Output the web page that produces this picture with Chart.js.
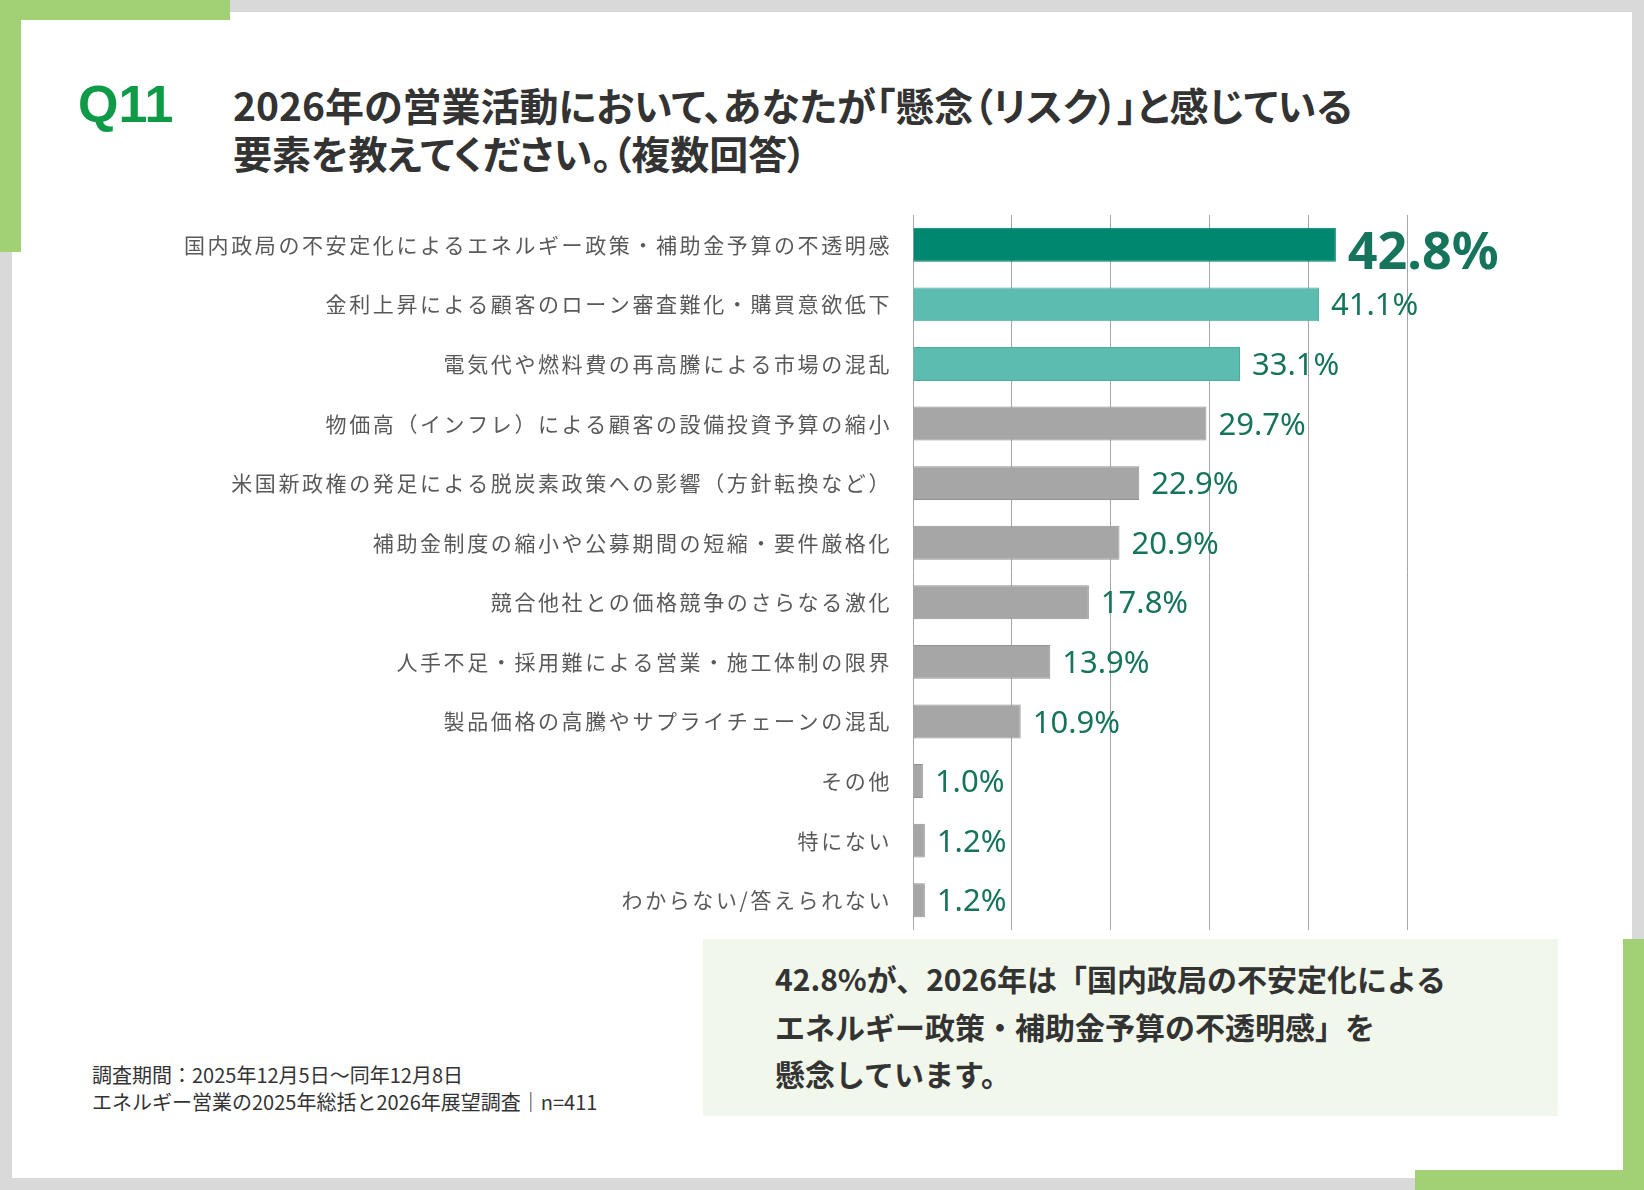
<!DOCTYPE html>
<html lang="ja">
<head>
<meta charset="utf-8">
<title>Q11 懸念要素</title>
<script src="https://cdn.jsdelivr.net/npm/chart.js@4.4.1/dist/chart.umd.min.js"></script>
<style>
  html, body { margin: 0; padding: 0; }
  body { width: 1644px; height: 1190px; background: #d9d9d9; position: relative; overflow: hidden; font-family: "Noto Sans CJK JP", sans-serif; }
  .panel { position: absolute; left: 12px; top: 12px; width: 1620px; height: 1166px; background: #fff; }
  .green { position: absolute; background: #a2d074; }
  .q { position: absolute; left: 78px; top: 78px; font: 700 52px/52px "Liberation Sans", Arial, sans-serif; color: #0e9a47; }
  .title { position: absolute; left: 233px; top: 80px; font-weight: 700; font-size: 39px; line-height: 48px; color: #333; white-space: nowrap; font-feature-settings: "palt"; }
  .chart-box { position: absolute; left: 150px; top: 200px; width: 1400px; height: 740px; }
  .callout { position: absolute; left: 703px; top: 939px; width: 855px; height: 177px; background: #f1f7ea; }
  .callout-text { position: absolute; left: 775px; top: 955px; font-weight: 700; font-size: 30px; line-height: 47.5px; color: #333; white-space: nowrap; }
  .note { position: absolute; left: 92px; top: 1061px; font-size: 20px; line-height: 27px; color: #333; white-space: nowrap; }
</style>
</head>
<body>
<div class="panel"></div>
<div class="green" style="left:0;top:0;width:230px;height:20px"></div>
<div class="green" style="left:0;top:0;width:21px;height:252px"></div>
<div class="green" style="left:1623px;top:939px;width:21px;height:251px"></div>
<div class="green" style="left:1415px;top:1170px;width:229px;height:20px"></div>

<div class="q">Q11</div>
<div class="title">2026年の営業活動において、あなたが「懸念（リスク）」と感じている<br>要素を教えてください。（複数回答）</div>

<div class="chart-box"><canvas id="chart" width="1400" height="740"></canvas></div>

<div class="callout"></div>
<div class="callout-text">42.8%が、2026年は「国内政局の不安定化による<br>エネルギー政策・補助金予算の不透明感」を<br>懸念しています。</div>

<div class="note">調査期間：2025年12月5日～同年12月8日<br>エネルギー営業の2025年総括と2026年展望調査｜n=411</div>

<script>
// data (%)
const categories = [
  "国内政局の不安定化によるエネルギー政策・補助金予算の不透明感",
  "金利上昇による顧客のローン審査難化・購買意欲低下",
  "電気代や燃料費の再高騰による市場の混乱",
  "物価高（インフレ）による顧客の設備投資予算の縮小",
  "米国新政権の発足による脱炭素政策への影響（方針転換など）",
  "補助金制度の縮小や公募期間の短縮・要件厳格化",
  "競合他社との価格競争のさらなる激化",
  "人手不足・採用難による営業・施工体制の限界",
  "製品価格の高騰やサプライチェーンの混乱",
  "その他",
  "特にない",
  "わからない/答えられない"
];
const values = [42.8, 41.1, 33.1, 29.7, 22.9, 20.9, 17.8, 13.9, 10.9, 1.0, 1.2, 1.2];
const axisMax = 50;
const axisStep = 10;

// bar colours: top one dark teal, next two light teal, rest gray
const barColors = values.map((v, i) => i === 0 ? "#00876f" : i < 3 ? "#5dbcb0" : "#a6a6a6");
const barBorders = values.map((v, i) => i === 0 ? "#007a64" : i < 3 ? "#4ea99d" : "#939393");

// wide spacing of the category labels
const labelSpacing = {
  id: "labelSpacing",
  beforeDraw(chart) { chart.ctx.letterSpacing = "2.6px"; },
  afterDraw(chart) { chart.ctx.letterSpacing = "0px"; }
};

// value labels at the end of each bar
const valueLabels = {
  id: "valueLabels",
  afterDatasetsDraw(chart) {
    const ctx = chart.ctx;
    const meta = chart.getDatasetMeta(0);
    ctx.save();
    ctx.letterSpacing = "0px";
    ctx.fillStyle = "#17745c";
    ctx.textAlign = "left";
    ctx.textBaseline = "alphabetic";
    meta.data.forEach((bar, i) => {
      const big = i === 0;
      const size = big ? 52 : 31;
      ctx.font = (big ? "700 " : "400 ") + size + 'px "Noto Sans", sans-serif';
      ctx.fillText(values[i].toFixed(1) + "%", bar.x + 12, bar.y + size * 0.357 + (big ? 6 : 0));
    });
    ctx.restore();
  }
};

new Chart(document.getElementById("chart"), {
  type: "bar",
  data: {
    labels: categories,
    datasets: [{
      data: values,
      backgroundColor: barColors,
      borderColor: barBorders,
      borderWidth: 1,
      barPercentage: 0.57,
      categoryPercentage: 1
    }]
  },
  options: {
    indexAxis: "y",
    responsive: false,
    animation: false,
    layout: { padding: { top: 15, bottom: 10, left: 0, right: 143 } },
    plugins: {
      legend: { display: false },
      tooltip: { enabled: false }
    },
    scales: {
      x: {
        min: 0,
        max: axisMax,
        ticks: { display: false, stepSize: axisStep },
        grid: { color: "#a6a6a6", lineWidth: 1, drawTicks: false },
        border: { display: false },
        afterFit(scale) {
          scale.height = 0;
          scale.paddingLeft = 0;
          scale.paddingRight = 0;
        }
      },
      y: {
        grid: { display: false, drawTicks: false },
        border: { display: false },
        ticks: {
          autoSkip: false,
          padding: 21,
          color: "#595959",
          font: { family: '"Noto Sans CJK JP", sans-serif', size: 21 }
        },
        afterFit(scale) {
          scale.width = 763;
          scale.paddingTop = 0;
          scale.paddingBottom = 0;
        }
      }
    }
  },
  plugins: [labelSpacing, valueLabels]
});
</script>
</body>
</html>
